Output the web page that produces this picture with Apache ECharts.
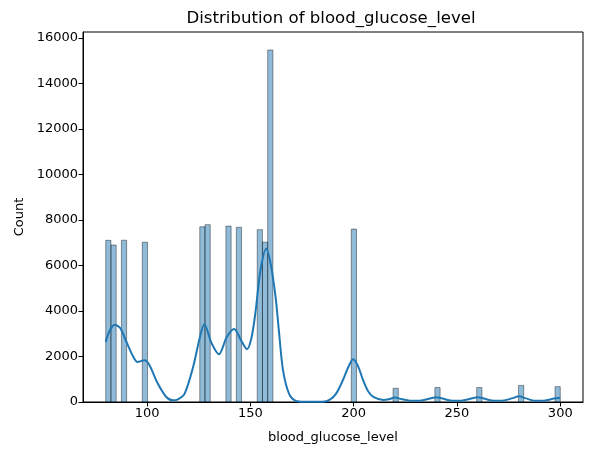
<!DOCTYPE html>
<html lang="en">

<head>
    <meta charset="UTF-8">
    <title>Distribution of blood_glucose_level</title>
    <script src="https://cdn.jsdelivr.net/npm/echarts@6/dist/echarts.min.js"></script>
    <style>
        * {
            margin: 0;
            padding: 0;
        }

        #main {
            width: 589px;
            height: 455px;
            background: #fff;
        }
    </style>
</head>

<body>
    <div id="main"></div>
    <script>
        // histogram: 87 bins between 80 and 300, only the filled ones are listed
        const binWidth = 220 / 87;
        const binStarts = [80, 82.53, 87.59, 97.70, 125.52, 128.05, 138.16, 143.22, 153.33, 155.86, 158.39,
            198.85, 219.08, 239.31, 259.54, 279.77, 297.47];
        const counts = [7106, 6901, 7112, 7025, 7702, 7794, 7732, 7679, 7575, 7026, 15471,
            7600, 603, 636, 635, 729, 674];

        // kde curve (value, count)
        const kdeX = [80, 82, 84.4, 87, 90, 93, 95.4, 98.7, 101, 105.2, 109.3, 112.5, 115, 118.2, 122.3, 125.6,
            127.7, 131.3, 134.8, 138.6, 142.2, 145.5, 148.4, 150.5, 152.4, 154.9, 157.7, 159.8, 162.2, 163.8,
            165.8, 168.7, 172, 176, 185, 188.5, 191.5, 194.5, 197.5, 199.7, 202, 204.6, 207, 209.5, 214.4,
            217, 220, 223, 228, 232, 237, 240, 243, 248, 252, 257, 260, 263, 268, 272, 277, 280, 283, 288,
            292, 297, 300];
        const kdeY = [2640, 3150, 3400, 3250, 2650, 2050, 1760, 1835, 1650, 810, 220, 75, 120, 370, 1540, 2860,
            3420, 2570, 2100, 2860, 3210, 2710, 2320, 2800, 3890, 5790, 6740, 6080, 4620, 3150,
            1400, 370, 50, 10, 10, 100, 370, 900, 1550, 1880, 1600, 950, 470, 220, 90,
            120, 200, 130, 50, 60, 150, 210, 150, 50, 60, 150, 210, 150, 50, 60, 170, 250, 170, 50,
            60, 150, 190];

        const xTicks = [100, 150, 200, 250, 300];
        const yTicks = [0, 2000, 4000, 6000, 8000, 10000, 12000, 14000, 16000];

        const font = 'DejaVu Sans';
        let myChart = echarts.init(document.getElementById('main'), null, { renderer: 'canvas' });

        let histData = binStarts.map((s, i) => [s, s + binWidth, counts[i]]);
        let kdeData = kdeX.map((x, i) => [x, kdeY[i]]);

        function axisCommon() {
            return {
                axisLine: { show: true, lineStyle: { color: '#000', width: 1 } },
                axisTick: { show: true, length: 4.5, lineStyle: { color: '#000', width: 1 } },
                axisLabel: { color: '#000', fontFamily: font, fontSize: 13, margin: 5, formatter: v => String(v) },
                splitLine: { show: false },
                nameTextStyle: { color: '#000', fontFamily: font, fontSize: 13 }
            };
        }

        let xAxis = axisCommon();
        Object.assign(xAxis, {
            type: 'value',
            min: 69,
            max: 311,
            name: 'blood_glucose_level',
            nameLocation: 'middle',
            nameGap: 29
        });
        xAxis.axisTick.customValues = xTicks;
        xAxis.axisLabel.customValues = xTicks;

        let yAxis = axisCommon();
        Object.assign(yAxis, {
            type: 'value',
            min: 0,
            max: 16264,
            name: 'Count',
            nameLocation: 'middle',
            nameGap: 57
        });
        yAxis.axisTick.customValues = yTicks;
        yAxis.axisLabel.customValues = yTicks;

        let option = {
            animation: false,
            backgroundColor: '#fff',
            title: {
                text: 'Distribution of blood_glucose_level',
                left: 326,
                textAlign: 'center',
                top: 5,
                textStyle: { color: '#000', fontFamily: font, fontSize: 16.6, fontWeight: 'normal' }
            },
            grid: {
                left: 83,
                right: 6,
                top: 32,
                bottom: 53,
                show: true,
                borderColor: '#000',
                borderWidth: 1,
                backgroundColor: 'transparent'
            },
            xAxis: xAxis,
            yAxis: yAxis,
            series: [{
                type: 'custom',
                data: histData,
                encode: { x: [0, 1], y: 2 },
                renderItem: function (params, api) {
                    let p0 = api.coord([api.value(0), api.value(2)]);
                    let p1 = api.coord([api.value(1), 0]);
                    return {
                        type: 'rect',
                        shape: { x: p0[0], y: p0[1], width: p1[0] - p0[0], height: p1[1] - p0[1] },
                        style: {
                            fill: 'rgba(31,119,180,0.5)',
                            stroke: 'rgba(0,0,0,0.5)',
                            lineWidth: 0.8
                        }
                    };
                },
                z: 2
            }, {
                type: 'line',
                data: kdeData,
                smooth: 0.3,
                showSymbol: false,
                symbol: 'none',
                lineStyle: { color: '#1f77b4', width: 2 },
                z: 3
            }]
        };

        myChart.setOption(option, true);
    </script>
</body>

</html>
